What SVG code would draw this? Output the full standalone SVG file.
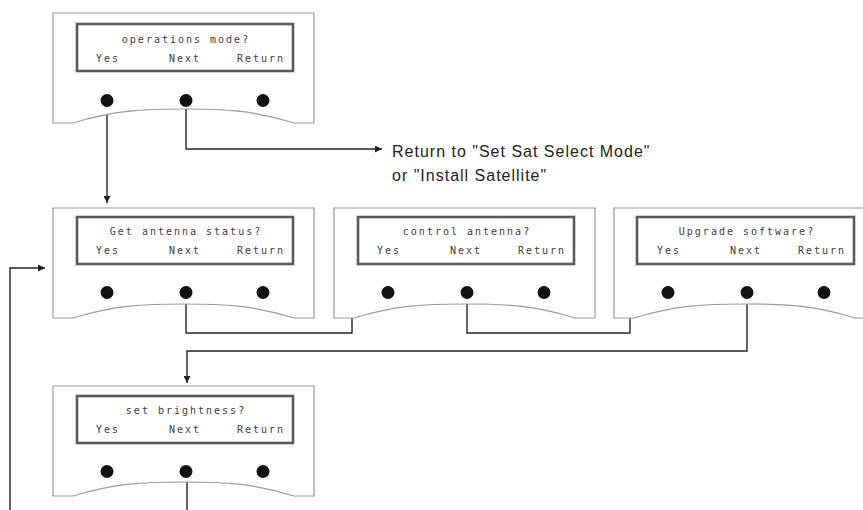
<svg xmlns="http://www.w3.org/2000/svg" width="863" height="510" viewBox="0 0 863 510">
<defs>
<style>
.panel{fill:#fff;stroke:#9a9a9a;stroke-width:1.2}
.lcd{fill:#fff;stroke:#5a5a5a;stroke-width:2.6}
.lt{font-family:"DejaVu Sans Mono",monospace;font-size:10px;fill:#3a3a3a;letter-spacing:2px;text-anchor:middle}
.btn{fill:#111}
.conn{fill:none;stroke:#222;stroke-width:1.4}
.note{font-family:"Liberation Sans",Arial,sans-serif;font-size:16px;fill:#222;letter-spacing:1px}
</style>
<marker id="ah" viewBox="0 0 10 10" refX="10" refY="5" markerWidth="9" markerHeight="7" markerUnits="userSpaceOnUse" orient="auto">
<path d="M0,0 L10,5 L0,10 Z" fill="#222"/>
</marker>
<path id="shell" d="M0,0 H261 V110 H241 C200,97 170,96 131,96 C92,96 62,97 20,110 H0 Z"/>
<g id="keys">
<circle class="btn" cx="54" cy="87.5" r="6.5"/>
<circle class="btn" cx="133" cy="87.5" r="6.5"/>
<circle class="btn" cx="210" cy="87.5" r="6.5"/>
<text class="lt" x="55" y="49">Yes</text>
<text class="lt" x="132" y="49">Next</text>
<text class="lt" x="208" y="49">Return</text>
</g>
</defs>

<g id="connectors">
<path class="conn" d="M107,108 V203" marker-end="url(#ah)"/>
<path class="conn" d="M186,108 V149 H382" marker-end="url(#ah)"/>
<path class="conn" d="M10,510 V268 H45" marker-end="url(#ah)"/>
<path class="conn" d="M186,302 V333 H352 V287" marker-end="url(#ah)"/>
<path class="conn" d="M467,302 V333 H630 V287" marker-end="url(#ah)"/>
<path class="conn" d="M747,302 V351 H187 V383" marker-end="url(#ah)"/>
<path class="conn" d="M187,480 V510"/>
</g>

<g id="node-operations" transform="translate(53,13)">
<use href="#shell" class="panel"/>
<rect class="lcd" x="24" y="11" width="216" height="47"/>
<text class="lt" x="133" y="30">operations mode?</text>
<use href="#keys"/>
</g>

<g id="node-antenna-status" transform="translate(53,208)">
<use href="#shell" class="panel"/>
<rect class="lcd" x="24" y="9" width="216" height="47"/>
<text class="lt" x="133" y="27">Get antenna status?</text>
<use href="#keys" transform="translate(0,-3)"/>
</g>

<g id="node-control-antenna" transform="translate(334,208)">
<use href="#shell" class="panel"/>
<rect class="lcd" x="24" y="9" width="216" height="47"/>
<text class="lt" x="133" y="27">control antenna?</text>
<use href="#keys" transform="translate(0,-3)"/>
</g>

<g id="node-upgrade-software" transform="translate(614,208)">
<use href="#shell" class="panel"/>
<rect class="lcd" x="23" y="9" width="217" height="47"/>
<text class="lt" x="133" y="27">Upgrade software?</text>
<use href="#keys" transform="translate(0,-3)"/>
</g>

<g id="node-brightness" transform="translate(53,386)">
<use href="#shell" class="panel"/>
<rect class="lcd" x="24" y="10" width="216" height="47"/>
<text class="lt" x="133" y="28">set brightness?</text>
<use href="#keys" transform="translate(0,-2)"/>
</g>

<g id="return-note">
<text class="note" x="392" y="157">Return to "Set Sat Select Mode"</text>
<text class="note" x="392" y="181">or "Install Satellite"</text>
</g>
</svg>
